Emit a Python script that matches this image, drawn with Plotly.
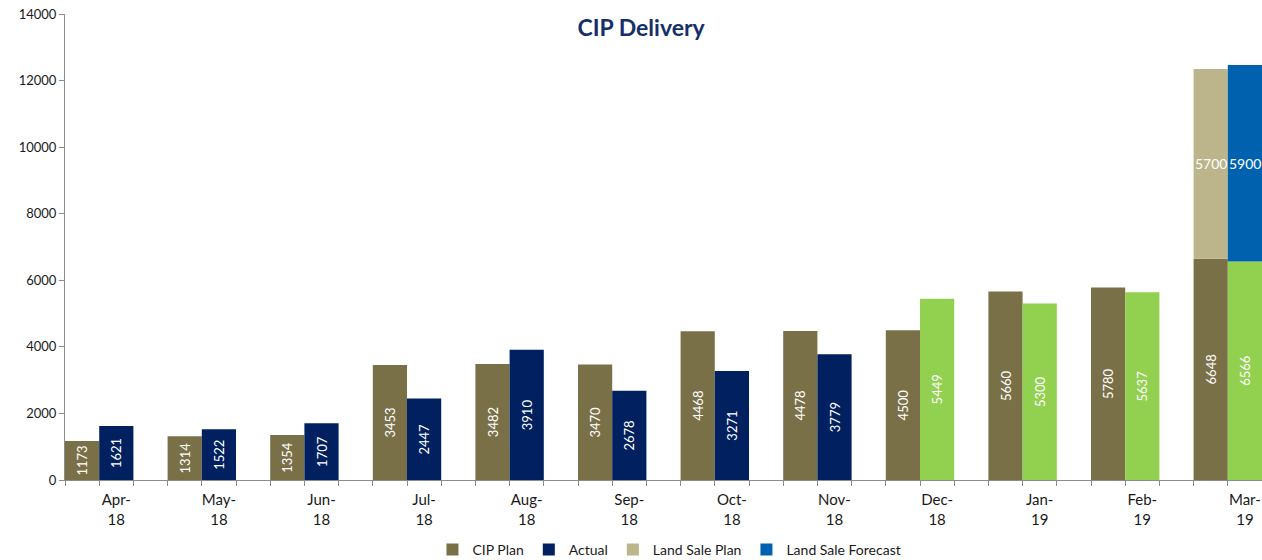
import plotly.graph_objs as go

months = ["Apr-<br>18", "May-<br>18", "Jun-<br>18", "Jul-<br>18", "Aug-<br>18", "Sep-<br>18",
          "Oct-<br>18", "Nov-<br>18", "Dec-<br>18", "Jan-<br>19", "Feb-<br>19", "Mar-<br>19"]
cip_plan = [1173, 1314, 1354, 3453, 3482, 3470, 4468, 4478, 4500, 5660, 5780, 6648]
actual = [1621, 1522, 1707, 2447, 3910, 2678, 3271, 3779, 5449, 5300, 5637, 6566]
# Dec-18 onwards the actual column is a forecast, shown in green
actual_is_forecast = [False] * 8 + [True] * 4

land_sale_months = ["Mar-<br>19"]
land_sale_plan = [5700]
land_sale_forecast = [5900]

OLIVE = "#7A7048"
NAVY = "#002060"
GREEN = "#92D050"
SAND = "#BCB48A"
BLUE = "#0062AE"
FONT = "Lato"

pos = list(range(len(months)))
land_pos = [months.index(m) for m in land_sale_months]
slot = 1 / 3

label_font = dict(color="white", size=13, family=FONT)

fig = go.Figure()

fig.add_trace(go.Bar(x=pos, y=cip_plan, name="CIP Plan",
                     marker_color=OLIVE, marker_line_width=0,
                     offset=-0.5, width=slot,
                     text=cip_plan, textposition="inside", insidetextanchor="middle",
                     textangle=-90, textfont=label_font))

fig.add_trace(go.Bar(x=pos, y=actual, name="Actual",
                     marker_color=[GREEN if f else NAVY for f in actual_is_forecast],
                     marker_line_width=0,
                     offset=-0.5 + slot, width=slot,
                     text=actual, textposition="inside", insidetextanchor="middle",
                     textangle=-90, textfont=label_font))

land_plan_base = [cip_plan[i] for i in land_pos]
land_fc_base = [actual[i] for i in land_pos]

fig.add_trace(go.Bar(x=land_pos, y=land_sale_plan, name="Land Sale Plan",
                     base=land_plan_base,
                     marker_color=SAND, marker_line_width=0,
                     offset=-0.5, width=slot, textposition="none"))

fig.add_trace(go.Bar(x=land_pos, y=land_sale_forecast, name="Land Sale Forecast",
                     base=land_fc_base,
                     marker_color=BLUE, marker_line_width=0,
                     offset=-0.5 + slot, width=slot, textposition="none"))

# horizontal labels for the land sale segments (too narrow for plotly's inside text)
for i, p in enumerate(land_pos):
    fig.add_annotation(x=p - 0.5 + slot / 2, y=land_plan_base[i] + land_sale_plan[i] / 2,
                       text=str(land_sale_plan[i]), showarrow=False, font=dict(label_font, size=14))
    fig.add_annotation(x=p - 0.5 + 1.5 * slot, y=land_fc_base[i] + land_sale_forecast[i] / 2,
                       text=str(land_sale_forecast[i]), showarrow=False, font=dict(label_font, size=14))

fig.update_layout(
    width=1262, height=560,
    barmode="overlay",
    plot_bgcolor="white", paper_bgcolor="white",
    margin=dict(l=65, r=0, t=14, b=80, autoexpand=False),
    font=dict(family=FONT, size=13, color="#1a1a1a"),
    title=dict(text="<b>CIP Delivery</b>", x=0.508, xanchor="center",
               y=0.95, yanchor="middle",
               font=dict(family=FONT, size=23, color="#152F6B")),
    legend=dict(orientation="h", x=0.307, xanchor="left", y=-0.15, yanchor="middle",
                font=dict(size=14, family=FONT), itemwidth=30, traceorder="normal"),
    showlegend=True,
)

fig.update_xaxes(
    range=[-0.5, len(months) - 0.5 - slot],
    tickmode="array", tickvals=pos, ticktext=months,
    ticks="", showgrid=False, zeroline=False,
    showline=True, linecolor="#8c8c8c", linewidth=1,
    tickfont=dict(size=15, family=FONT), ticklabelstandoff=6,
    minor=dict(tickmode="array",
               tickvals=[-0.5 + k * slot for k in range(3 * len(months))],
               ticks="outside", ticklen=5, tickcolor="#8c8c8c", showgrid=False),
)

fig.update_yaxes(
    range=[0, 14000], dtick=2000, tick0=0, tickformat="d",
    showgrid=False, zeroline=False,
    showline=True, linecolor="#8c8c8c", linewidth=1,
    ticks="outside", ticklen=5, tickcolor="#8c8c8c",
    tickfont=dict(size=13, family=FONT),
)

fig.write_html("out.html", config={"displayModeBar": False},
               post_script="document.body.style.margin='0';")
